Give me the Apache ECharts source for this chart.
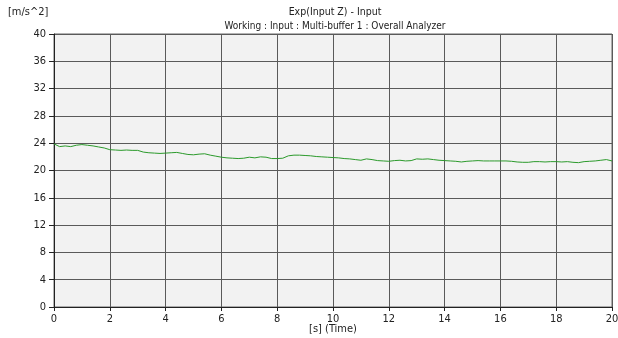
<!DOCTYPE html>
<html>
<head>
<meta charset="utf-8">
<script src="https://cdn.jsdelivr.net/npm/echarts@6/dist/echarts.min.js"></script>
<style>
  html, body { margin: 0; padding: 0; background: #fff; }
  #chart { width: 618px; height: 338px; }
</style>
</head>
<body>
<div id="chart"></div>
<script>
// sample spacing of the trace, seconds
const sampleStep = 0.2;

// Exp(Input Z) trace, m/s^2, one value every 0.2 s from 0 to 20 s
const inputZ = [
  23.9, 23.5, 23.6, 23.5, 23.7, 23.8, 23.7, 23.6, 23.45, 23.3,
  23.05, 23.0, 22.95, 23.0, 22.95, 22.95, 22.7, 22.6, 22.55, 22.5,
  22.55, 22.6, 22.65, 22.5, 22.35, 22.3, 22.4, 22.45, 22.25, 22.1,
  21.95, 21.85, 21.8, 21.75, 21.8, 21.95, 21.85, 22.0, 21.95, 21.75,
  21.75, 21.8, 22.15, 22.25, 22.25, 22.2, 22.15, 22.05, 22.0, 21.95,
  21.9, 21.85, 21.75, 21.7, 21.6, 21.5, 21.7, 21.6, 21.45, 21.4,
  21.35, 21.45, 21.5, 21.4, 21.45, 21.7, 21.65, 21.7, 21.6, 21.5,
  21.45, 21.4, 21.35, 21.25, 21.35, 21.4, 21.45, 21.4, 21.4, 21.4,
  21.4, 21.4, 21.35, 21.25, 21.2, 21.2, 21.3, 21.3, 21.25, 21.3,
  21.3, 21.25, 21.3, 21.2, 21.15, 21.3, 21.35, 21.4, 21.5, 21.6,
  21.4
];

const titleText = "Exp(Input Z) - Input";
const subtitleText = "Working : Input : Multi-buffer 1 : Overall Analyzer";
const yUnit = "[m/s^2]";
const xName = "[s] (Time)";

const font = "'DejaVu Sans Condensed', 'Liberation Sans', sans-serif";
const textColor = "#222";

const chart = echarts.init(document.getElementById("chart"), null, { renderer: "canvas" });

const points = inputZ.map((v, i) => [Number((i * sampleStep).toFixed(1)), v]);

const plainText = (text, left, top, size, align) => ({
  text, left, top, padding: 0, textAlign: align || "left",
  textStyle: { fontFamily: font, fontSize: size, fontWeight: "normal", color: textColor }
});

chart.setOption({
  animation: false,
  backgroundColor: "#ffffff",
  title: [
    plainText(titleText, 335, 7, 10.5, "center"),
    plainText(subtitleText, 335, 21, 10, "center"),
    plainText(yUnit, 8, 7, 11),
    // axis name drawn as plain text so it sits right under the tick labels
    plainText(xName, 333, 324, 11, "center")
  ],
  grid: {
    left: 54, right: 6, top: 34, bottom: 31,
    outerBoundsMode: "none",
    containLabel: false,
    show: true, backgroundColor: "#f2f2f2", borderColor: "#666", borderWidth: 1
  },
  xAxis: {
    type: "value",
    min: 0, max: 20, interval: 2,
    axisLine: { onZero: false, lineStyle: { color: "#222", width: 1 } },
    axisTick: { show: true, length: 4, lineStyle: { color: "#222" } },
    axisLabel: { fontFamily: font, fontSize: 11, color: textColor, margin: 7 },
    splitLine: { show: true, lineStyle: { color: "#5a5a5a", width: 1 } }
  },
  yAxis: {
    type: "value",
    min: 0, max: 40, interval: 4,
    axisLine: { show: true, onZero: false, lineStyle: { color: "#222", width: 1 } },
    axisTick: { show: true, length: 5, lineStyle: { color: "#222" } },
    axisLabel: { fontFamily: font, fontSize: 11, color: textColor, margin: 8 },
    splitLine: { show: true, lineStyle: { color: "#5a5a5a", width: 1 } }
  },
  series: [
    {
      name: "Exp(Input Z)",
      type: "line",
      data: points,
      showSymbol: false,
      symbol: "none",
      lineStyle: { color: "#2b9a2b", width: 1 }
    }
  ]
});
</script>
</body>
</html>
